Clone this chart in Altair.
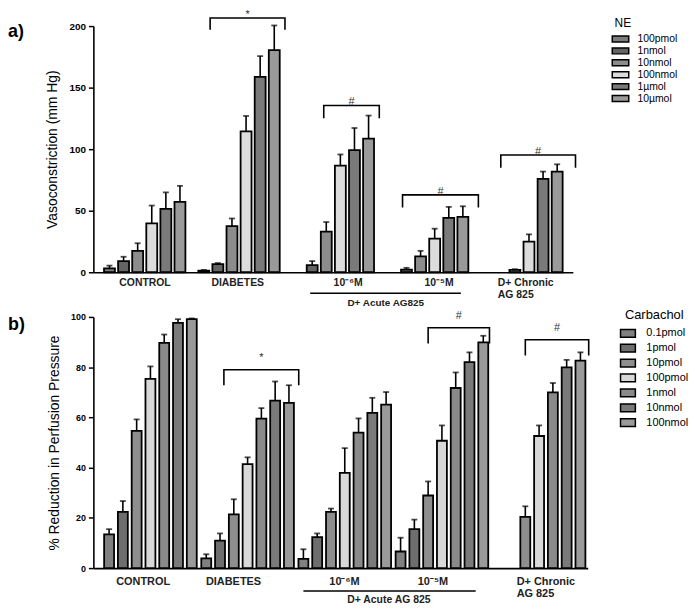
import altair as alt
import pandas as pd

FONT = "Liberation Sans"

# ---------------- Panel a (NE) data ----------------
groups_a = ["CONTROL", "DIABETES", "10⁻⁶M", "10⁻⁵M", "D+ Chronic\nAG 825"]
doses_a = ["100pmol", "1nmol", "10nmol", "100nmol", "1µmol", "10µmol"]
means_a = [
    [3.2, 9.1, 17.4, 39.7, 51.5, 57.1],
    [1.3, 6.7, 37.5, 114.5, 158.7, 180.4],
    [None, 5.8, 33.0, 86.6, 99.2, 108.6],
    [None, 2.1, 12.9, 27.3, 44.2, 45.0],
    [None, None, 2.0, 24.9, 75.9, 81.8],
]
sem_a = [
    [2.2, 3.5, 6.2, 14.5, 13.4, 13.1],
    [0.6, 0.8, 6.2, 12.5, 16.9, 20.1],
    [None, 3.3, 7.8, 9.1, 18.0, 18.7],
    [None, 1.5, 4.5, 8.1, 8.9, 8.6],
    [None, None, 0.5, 5.9, 5.9, 5.9],
]
sig_group_a = [1, 2, 3, 4]
sig_symbol_a = ["*", "#", "#", "#"]

# ---------------- Panel b (Carbachol) data ----------------
groups_b = ["CONTROL", "DIABETES", "10⁻⁶M", "10⁻⁵M", "D+ Chronic\nAG 825"]
doses_b = ["0.1pmol", "1pmol", "10pmol", "100pmol", "1nmol", "10nmol", "100nmol"]
means_b = [
    [13.4, 22.4, 54.6, 75.3, 89.7, 97.6, 99.1],
    [3.9, 10.9, 21.4, 41.4, 59.5, 66.7, 65.8],
    [3.7, 12.3, 22.4, 37.9, 53.9, 61.8, 65.1],
    [6.6, 15.5, 28.9, 50.7, 71.7, 82.0, 89.9],
    [None, None, 20.4, 52.6, 70.0, 79.9, 82.6],
]
sem_b = [
    [2.1, 4.3, 4.6, 5.0, 3.3, 1.5, 0.3],
    [1.6, 2.9, 6.0, 2.7, 4.2, 7.6, 7.0],
    [3.8, 1.5, 1.3, 9.9, 5.7, 6.0, 5.0],
    [5.5, 3.8, 5.6, 6.1, 6.2, 3.9, 2.6],
    [None, None, 4.2, 4.2, 3.7, 3.0, 3.3],
]
sig_group_b = [1, 3, 4]
sig_symbol_b = ["*", "#", "#"]

# ---------------- layout / style ----------------
STYLE_A = dict(
    step=6.69, xdomain=[-0.79, 32.52], width=483, height=248, bar=11,
    ydomain=[0, 200], yticks=[0, 50, 100, 150, 200],
    ytitle="Vasoconstriction (mm Hg)", tick_font=10,
    colors=["#7c7c7c", "#646464", "#8c8c8c", "#dcdcdc", "#7a7a7a", "#9a9a9a"],
    br_from=[0.45, 1.82, 0.72, 1.0], br_to=[5.76, 5.76, 6.1, 6.3],
    br_top=[206.5, 135.5, 62.9, 95.2], br_leg=[197.6, 125.8, 53.2, 85.5], sym_dy=-3,
    label_off=[2.52, 2.41, 3.55, 3.31, 0.79], label_font=10.5, label_dy=6,
    acute_x=[14.24, 24.93], acute_y=-17, acute_text_x=19.6, acute_text_y=-21,
    acute_text="D+ Acute AG825", acute_font=10,
    legend_title="NE", legend_x=525, legend_y=-8, legend_font=10.5, legend_title_font=12,
    legend_title_pad=3, legend_title_anchor="start",
    sym_size=100, sym_path="M-1.66,-0.6H1.66V0.6H-1.66Z", label_offset=11,
    panel_title="a)", panel_x=-86, panel_y=6,
)
STYLE_B = dict(
    step=7.05, xdomain=[-0.78, 34.37], width=498, height=253, bar=10,
    ydomain=[0, 100], yticks=[0, 20, 40, 60, 80, 100],
    ytitle="% Reduction in Perfusion Pressure", tick_font=9,
    colors=["#808080", "#6e6e6e", "#8e8e8e", "#d8d8d8", "#8a8a8a", "#7a7a7a", "#9a9a9a"],
    br_from=[1.28, 2.0, 2.0], br_to=[6.71, 6.45, 6.6],
    br_top=[79.0, 95.7, 90.9], br_leg=[73.1, 89.7, 85.0], sym_dy=-12,
    label_off=[2.47, 1.98, 2.98, 2.35, 1.37], label_font=11, label_dy=8,
    acute_x=[14.1, 26.6], acute_y=-9.1, acute_text_x=20.3, acute_text_y=-10.9,
    acute_text="D+ Acute AG 825", acute_font=10.5,
    legend_title="Carbachol", legend_x=531, legend_y=-8, legend_font=11, legend_title_font=13,
    legend_title_pad=4, legend_title_anchor="middle",
    sym_size=169, sym_path="M-1.15,-0.6H1.15V0.6H-1.15Z", label_offset=11,
    panel_title="b)", panel_x=-86, panel_y=8,
)


def bar_table(groups, doses, means, sems, step):
    rows = []
    for gi, g in enumerate(groups):
        for di, d in enumerate(doses):
            m = means[gi][di]
            if m is None:
                continue
            rows.append(dict(group=g, dose=d, slot=gi * step + di,
                             mean=m, top=m + sems[gi][di]))
    return pd.DataFrame(rows)


def panel(groups, doses, means, sems, sig_groups, sig_symbols, s):
    step = s["step"]
    df = bar_table(groups, doses, means, sems, step)

    xs = alt.Scale(domain=s["xdomain"], nice=False, zero=False)
    ys = alt.Scale(domain=s["ydomain"], nice=False)
    xaxis = alt.Axis(labels=False, ticks=False, grid=False, title=None,
                     domainColor="black", domainWidth=1.6)
    yaxis = alt.Axis(values=s["yticks"], grid=False, title=s["ytitle"],
                     labelFont=FONT, labelFontWeight="bold",
                     labelFontSize=s["tick_font"], labelColor="black",
                     labelPadding=3, tickSize=5, tickWidth=1.5,
                     tickColor="black", domainColor="black", domainWidth=1.6,
                     titleFont=FONT, titleFontSize=14, titleFontWeight="normal",
                     titleColor="black", titlePadding=9)

    def X(field):
        return alt.X(field, scale=xs, axis=xaxis)

    def Y(field):
        return alt.Y(field, scale=ys, axis=yaxis)

    bars = alt.Chart(df).mark_bar(orient="vertical", size=s["bar"], stroke="black",
                                  strokeWidth=1.8).encode(
        x=X("slot:Q"),
        y=Y("mean:Q"),
        fill=alt.Fill("dose:N", sort=doses,
                      scale=alt.Scale(domain=doses, range=s["colors"]),
                      legend=alt.Legend(title=s["legend_title"], orient="none",
                                        legendX=s["legend_x"], legendY=s["legend_y"],
                                        titleFont=FONT, titleFontSize=s["legend_title_font"],
                                        titleFontWeight="normal", titleColor="black",
                                        titlePadding=s["legend_title_pad"],
                                        titleAnchor=s["legend_title_anchor"],
                                        labelFont=FONT, labelFontSize=s["legend_font"],
                                        labelColor="black", labelOffset=s["label_offset"],
                                        symbolType=s["sym_path"], symbolSize=s["sym_size"],
                                        symbolStrokeColor="black", symbolStrokeWidth=1.5,
                                        rowPadding=0)),
    )

    err = alt.Chart(df).mark_rule(color="black", strokeWidth=1.6).encode(
        x=X("slot:Q"), y=Y("mean:Q"), y2="top:Q",
    )
    caps = alt.Chart(df).mark_tick(color="black", thickness=1.8, size=6,
                                   orient="horizontal").encode(
        x=X("slot:Q"), y=Y("top:Q"),
    )

    # significance brackets
    brows, srows = [], []
    for k, gi in enumerate(sig_groups):
        x0 = gi * step + s["br_from"][k]
        x1 = gi * step + s["br_to"][k]
        pts = [(x0, s["br_leg"][k]), (x0, s["br_top"][k]),
               (x1, s["br_top"][k]), (x1, s["br_leg"][k])]
        for o, (px, py) in enumerate(pts):
            brows.append(dict(id=k, o=o, x=px, y=py))
        srows.append(dict(x=(x0 + x1) / 2, y=s["br_top"][k], t=sig_symbols[k]))
    bdf, sdf = pd.DataFrame(brows), pd.DataFrame(srows)

    brackets = alt.Chart(bdf).mark_line(color="black", strokeWidth=1.6,
                                        strokeCap="square").encode(
        x=X("x:Q"), y=Y("y:Q"), detail="id:N", order="o:Q",
    )
    sym = alt.Chart(sdf).mark_text(font=FONT, fontSize=11, color="#333",
                                   baseline="middle", dy=s["sym_dy"]).encode(
        x=X("x:Q"), y=Y("y:Q"), text="t:N",
    )

    # group labels under the axis
    lab = pd.DataFrame([dict(x=gi * step + s["label_off"][gi], t=g, y=0)
                        for gi, g in enumerate(groups)])
    lab_c = alt.Chart(lab.iloc[:4]).mark_text(
        font=FONT, fontSize=s["label_font"], fontWeight="bold", color="#222",
        baseline="top", align="center", dy=s["label_dy"]).encode(
        x=X("x:Q"), y=Y("y:Q"), text="t:N",
    )
    lab_l = alt.Chart(lab.iloc[4:]).mark_text(
        font=FONT, fontSize=s["label_font"], fontWeight="bold", color="#222",
        baseline="top", align="left", dy=s["label_dy"], lineBreak="\n",
        lineHeight=s["label_font"] + 1).encode(
        x=X("x:Q"), y=Y("y:Q"), text="t:N",
    )

    acute = pd.DataFrame([dict(x=s["acute_x"][0], x2=s["acute_x"][1], y=s["acute_y"],
                               tx=s["acute_text_x"], ty=s["acute_text_y"],
                               t=s["acute_text"])])
    acute_line = alt.Chart(acute).mark_rule(color="black", strokeWidth=1.4).encode(
        x=X("x:Q"), x2="x2:Q", y=Y("y:Q"),
    )
    acute_txt = alt.Chart(acute).mark_text(font=FONT, fontSize=s["acute_font"],
                                           fontWeight="bold", color="#222",
                                           baseline="top").encode(
        x=X("tx:Q"), y=Y("ty:Q"), text="t:N",
    )

    # panel letter
    letter = alt.Chart(pd.DataFrame([dict(t=s["panel_title"])])).mark_text(
        font=FONT, fontSize=18, fontWeight="bold", color="black",
        align="left", baseline="middle").encode(
        x=alt.value(s["panel_x"]), y=alt.value(s["panel_y"]), text="t:N",
    )

    return alt.layer(bars, err, caps, brackets, sym, lab_c, lab_l,
                     acute_line, acute_txt, letter).properties(
        width=s["width"], height=s["height"],
    )


pa = panel(groups_a, doses_a, means_a, sem_a, sig_group_a, sig_symbol_a, STYLE_A)
pb = panel(groups_b, doses_b, means_b, sem_b, sig_group_b, sig_symbol_b, STYLE_B)

chart = alt.vconcat(pa, pb, spacing=0).resolve_scale(
    x="independent", y="independent", fill="independent"
).resolve_legend(fill="independent").properties(
    padding={"left": 0, "top": -2, "right": 0, "bottom": 0}
).configure_view(stroke=None)

chart.save("out.html", embed_options={"renderer": "svg", "actions": False})
